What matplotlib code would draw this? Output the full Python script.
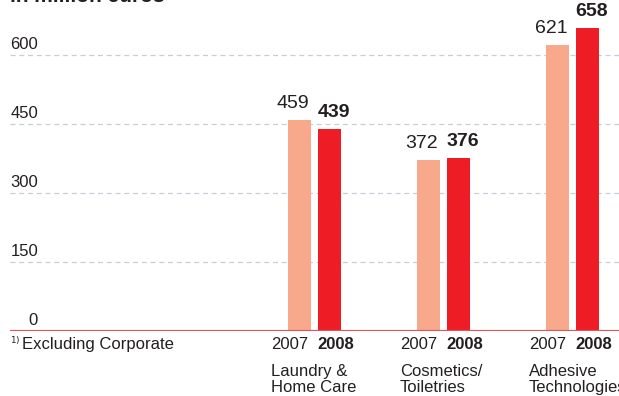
import numpy as np
import matplotlib
matplotlib.use("Agg")
from matplotlib import pyplot as plt
from matplotlib import transforms

plt.rcParams['font.family'] = ['Liberation Sans', 'DejaVu Sans']

categories = ["Laundry &\nHome Care", "Cosmetics/\nToiletries", "Adhesive\nTechnologies"]
years = ["2007", "2008"]
sales2007 = [459, 372, 621]
sales2008 = [439, 376, 658]
yticks = [0, 150, 300, 450, 600]

col2007 = '#F8A98B'
col2008 = '#EE1C25'
textCol = '#231F20'

W, H = 619, 396
fig = plt.figure(figsize=(W/100, H/100), dpi=100)
# axes run from the left margin to the right edge, baseline at 331px
ax = fig.add_axes([10/W, (H - 331)/H, 609/W, 331/H])
ax.set_xlim(-2.36, 2.364)
ax.set_ylim(0, 719.6)
ax.axis('off')

x = np.arange(len(categories))
off = 15/129
bw = 23/129

for v in yticks[1:]:
    ax.axhline(v, color='#C4CFD9', lw=0.9, ls=(0, (4, 3)), zorder=0)
ax.axhline(0, color='#E8505B', lw=1.6, zorder=3)

ax.bar(x - off, sales2007, bw, color=col2007, zorder=2)
ax.bar(x + off, sales2008, bw, color=col2008, zorder=2)

# 2007 value flush right over its bar, 2008 value flush left
for i in range(len(categories)):
    ax.annotate(str(sales2007[i]), (x[i] - off + bw/2, sales2007[i]), xytext=(-1, 6),
                textcoords='offset points', ha='right', va='bottom',
                fontsize=14, color=textCol)
    ax.annotate(str(sales2008[i]), (x[i] + off - bw/2, sales2008[i]), xytext=(0, 6),
                textcoords='offset points', ha='left', va='bottom',
                fontsize=14, fontweight='bold', color=textCol)

# year labels and category names under each pair
for i, cat in enumerate(categories):
    ax.annotate(years[0], (x[i] - off + bw/2, 0), xytext=(-1.5, -10),
                textcoords='offset points', ha='right', va='center',
                fontsize=12, color=textCol, annotation_clip=False)
    ax.annotate(years[1], (x[i] + off - bw/2, 0), xytext=(0, -10),
                textcoords='offset points', ha='left', va='center',
                fontsize=12, fontweight='bold', color=textCol, annotation_clip=False)
    ax.annotate(cat, (x[i] - off - bw/2, 0), xytext=(-12, -24),
                textcoords='offset points', ha='left', va='top',
                fontsize=12, color=textCol, linespacing=1.05, annotation_clip=False)

# y values sit just above their grid lines
trans = transforms.blended_transform_factory(fig.transFigure, ax.transData)
for v in yticks:
    ax.annotate(str(v), (38/W, v), xycoords=trans, xytext=(0, 2),
                textcoords='offset points', ha='right', va='bottom',
                fontsize=12, color=textCol, annotation_clip=False)

fig.text(10/W, (H - 344)/H, r'$^{1)}$', fontsize=9, color=textCol, va='center')
fig.text(22/W, (H - 345)/H, 'Excluding Corporate', fontsize=12, color=textCol, va='center')
fig.text(10/W, (H - 2)/H, 'in million euros', fontsize=15, fontweight='bold',
         color=textCol, va='baseline')

fig.savefig('out.png', dpi=100)
